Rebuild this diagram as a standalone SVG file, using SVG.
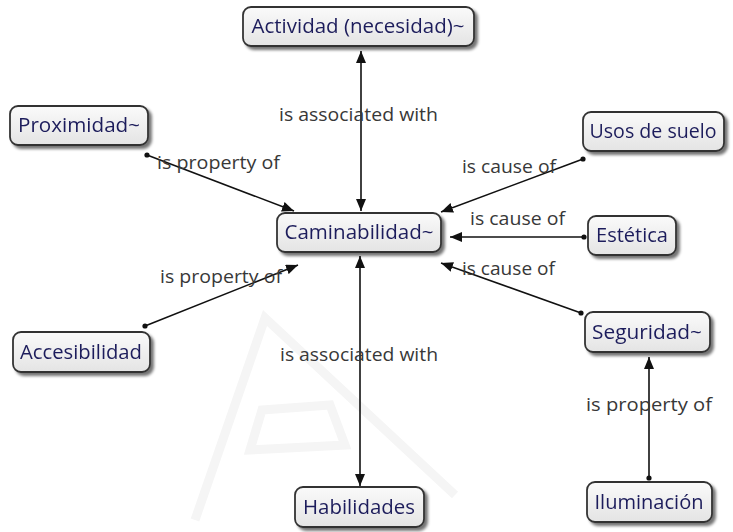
<svg xmlns="http://www.w3.org/2000/svg" width="733" height="532" viewBox="0 0 733 532">
  <defs>
    <linearGradient id="boxFill" x1="0" y1="0" x2="0" y2="1">
      <stop offset="0" stop-color="#fafafa"/>
      <stop offset="1" stop-color="#e4e4e4"/>
    </linearGradient>
    <filter id="shadow" x="-10%" y="-20%" width="130%" height="160%">
      <feGaussianBlur in="SourceAlpha" stdDeviation="1.6"/>
      <feOffset dx="3" dy="3" result="b"/>
      <feComponentTransfer><feFuncA type="linear" slope="0.55"/></feComponentTransfer>
      <feMerge><feMergeNode/><feMergeNode in="SourceGraphic"/></feMerge>
    </filter>
    <marker id="arrow" viewBox="0 0 12 10" refX="12" refY="5" markerWidth="12" markerHeight="10" markerUnits="userSpaceOnUse" orient="auto-start-reverse">
      <path d="M0,0 L12,5 L0,10 Z" fill="#111"/>
    </marker>
    <marker id="dot" viewBox="0 0 6 6" refX="3" refY="3" markerWidth="6" markerHeight="6" markerUnits="userSpaceOnUse">
      <circle cx="3" cy="3" r="2.6" fill="#111"/>
    </marker>
  </defs>
  <style>
    .box { fill: url(#boxFill); stroke: #333; stroke-width: 1.8; }
    .node text { font-family: "Open Sans", "Noto Sans", "DejaVu Sans", sans-serif; font-size: 20px; fill: #1e1e5c; text-anchor: middle; }
    .link { stroke: #111; stroke-width: 1.6; fill: none; }
    .lbl { font-family: "Open Sans", "Noto Sans", "DejaVu Sans", sans-serif; font-size: 19px; fill: #383838; }
    .mark { fill: none; stroke: #f5f5f5; stroke-width: 9; }
  </style>

  <rect width="733" height="532" fill="#ffffff"/>

  <!-- faint background logo -->
  <g id="watermark">
    <path class="mark" d="M195,520 L265,318 L455,495"/>
    <path class="mark" d="M262,410 L330,405 L345,445 L250,450 Z" stroke-width="6"/>
  </g>

  <g id="connectors">
    <line class="link" x1="361" y1="51" x2="361" y2="211" marker-start="url(#arrow)" marker-end="url(#arrow)"/>
    <line class="link" x1="360" y1="256" x2="360" y2="486" marker-start="url(#arrow)" marker-end="url(#arrow)"/>
    <line class="link" x1="147" y1="155" x2="294" y2="211" marker-start="url(#dot)" marker-end="url(#arrow)"/>
    <line class="link" x1="145" y1="326" x2="298" y2="265" marker-start="url(#dot)" marker-end="url(#arrow)"/>
    <line class="link" x1="583" y1="159" x2="441" y2="212" marker-start="url(#dot)" marker-end="url(#arrow)"/>
    <line class="link" x1="584" y1="237" x2="450" y2="237" marker-start="url(#dot)" marker-end="url(#arrow)"/>
    <line class="link" x1="581" y1="313" x2="441" y2="263" marker-start="url(#dot)" marker-end="url(#arrow)"/>
    <line class="link" x1="649" y1="478" x2="649" y2="357" marker-start="url(#dot)" marker-end="url(#arrow)"/>

    <text class="lbl" x="279" y="121" textLength="159" lengthAdjust="spacingAndGlyphs">is associated with</text>
    <text class="lbl" x="280" y="361" textLength="158" lengthAdjust="spacingAndGlyphs">is associated with</text>
    <text class="lbl" x="157" y="169" textLength="123" lengthAdjust="spacingAndGlyphs">is property of</text>
    <text class="lbl" x="160" y="283" textLength="122" lengthAdjust="spacingAndGlyphs">is property of</text>
    <text class="lbl" x="462" y="173" textLength="94" lengthAdjust="spacingAndGlyphs">is cause of</text>
    <text class="lbl" x="470" y="225" textLength="95" lengthAdjust="spacingAndGlyphs">is cause of</text>
    <text class="lbl" x="462" y="275" textLength="93" lengthAdjust="spacingAndGlyphs">is cause of</text>
    <text class="lbl" x="586" y="411" textLength="126" lengthAdjust="spacingAndGlyphs">is property of</text>
  </g>

  <g id="actividad" class="node" filter="url(#shadow)">
    <rect class="box" x="243" y="7" width="231" height="39" rx="8"/>
    <text x="358" y="33" textLength="213" lengthAdjust="spacingAndGlyphs">Actividad (necesidad)~</text>
  </g>
  <g id="proximidad" class="node" filter="url(#shadow)">
    <rect class="box" x="10" y="106" width="138" height="39" rx="8"/>
    <text x="79" y="132" textLength="122" lengthAdjust="spacingAndGlyphs">Proximidad~</text>
  </g>
  <g id="caminabilidad" class="node" filter="url(#shadow)">
    <rect class="box" x="277" y="213" width="164" height="39" rx="8"/>
    <text x="359" y="239" textLength="149" lengthAdjust="spacingAndGlyphs">Caminabilidad~</text>
  </g>
  <g id="usos" class="node" filter="url(#shadow)">
    <rect class="box" x="583" y="112" width="141" height="39" rx="8"/>
    <text x="653" y="138" textLength="127" lengthAdjust="spacingAndGlyphs">Usos de suelo</text>
  </g>
  <g id="estetica" class="node" filter="url(#shadow)">
    <rect class="box" x="588" y="216" width="88" height="39" rx="8"/>
    <text x="632" y="242" textLength="72" lengthAdjust="spacingAndGlyphs">Estética</text>
  </g>
  <g id="accesibilidad" class="node" filter="url(#shadow)">
    <rect class="box" x="13" y="332" width="137" height="40" rx="8"/>
    <text x="81" y="359" textLength="122" lengthAdjust="spacingAndGlyphs">Accesibilidad</text>
  </g>
  <g id="seguridad" class="node" filter="url(#shadow)">
    <rect class="box" x="585" y="312" width="125" height="40" rx="8"/>
    <text x="647" y="339" textLength="110" lengthAdjust="spacingAndGlyphs">Seguridad~</text>
  </g>
  <g id="iluminacion" class="node" filter="url(#shadow)">
    <rect class="box" x="587" y="482" width="125" height="40" rx="8"/>
    <text x="649" y="509" textLength="109" lengthAdjust="spacingAndGlyphs">Iluminación</text>
  </g>
  <g id="habilidades" class="node" filter="url(#shadow)">
    <rect class="box" x="295" y="487" width="129" height="40" rx="8"/>
    <text x="359" y="514" textLength="112" lengthAdjust="spacingAndGlyphs">Habilidades</text>
  </g>
</svg>
